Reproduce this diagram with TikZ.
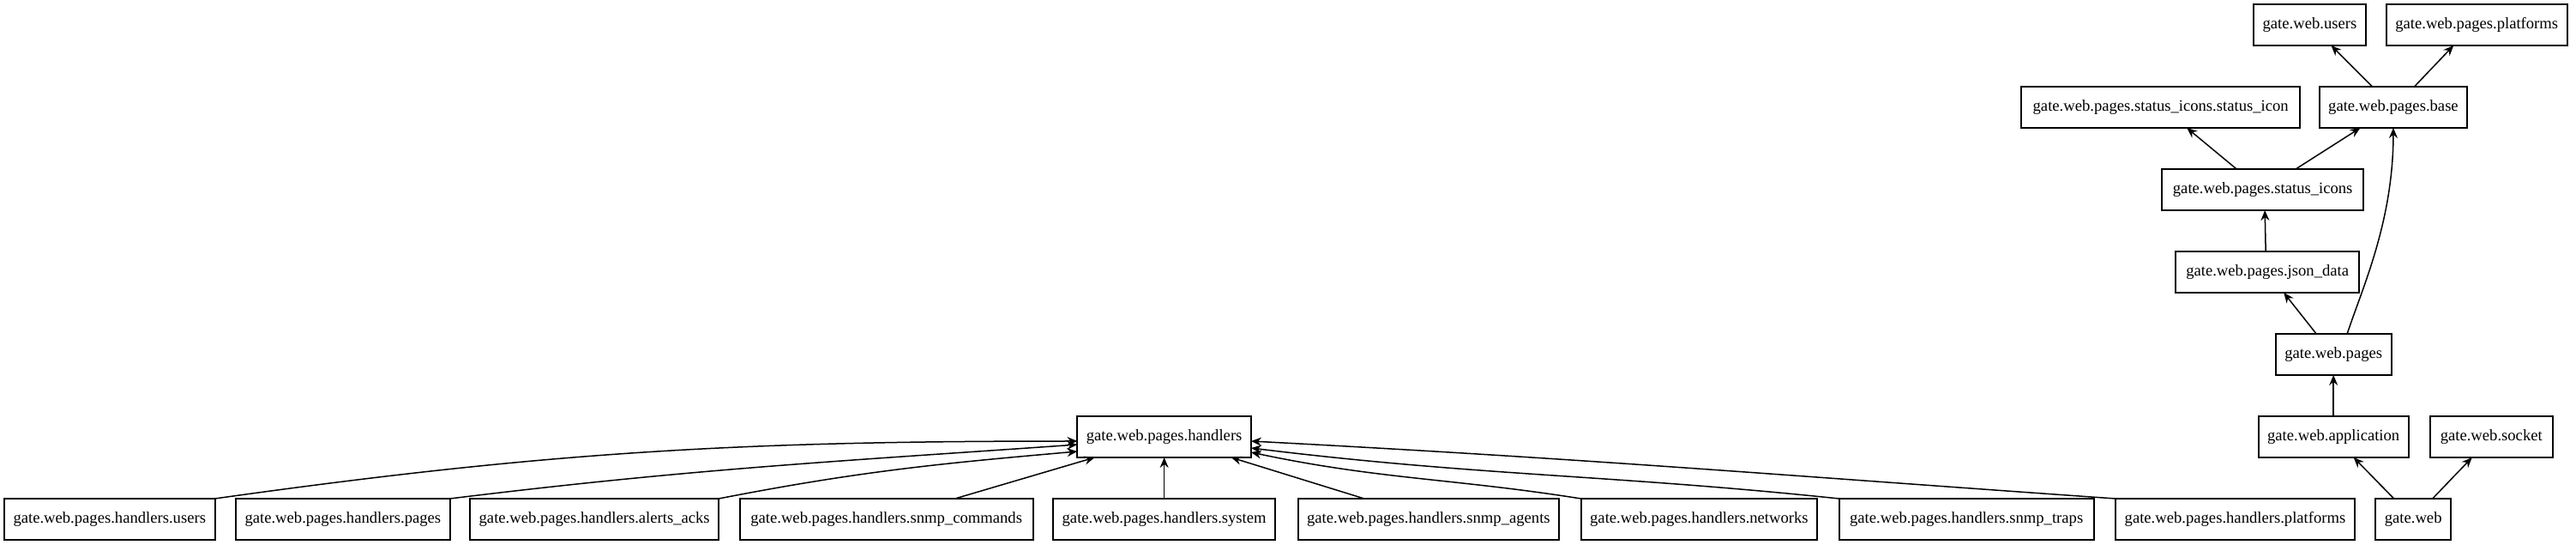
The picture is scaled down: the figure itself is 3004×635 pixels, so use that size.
\documentclass[tikz,border=0pt]{standalone}
\usepackage{fontspec}
\setmainfont{Liberation Serif}
\usetikzlibrary{arrows.meta,positioning}

\begin{document}
\begin{tikzpicture}
    \tikzstyle{module} = [rectangle, draw=black, fill=white, line width=2bp, outer sep=0pt, minimum height=48bp, minimum width=72bp, inner xsep=10.5bp, inner ysep=0pt, font=\fontsize{18.7}{22}\selectfont]
    \tikzstyle{arr} = [line width=1.5bp, -{Stealth[length=12bp, width=10bp, inset=4bp]}, draw=black]

    \useasboundingbox (0,0) rectangle (3004bp,635bp);

    % bottom row
    \node [module, anchor=south west] (hUsers) at (5bp,6bp) {gate.web.pages.handlers.users};
    \node [module, right=24.5bp of hUsers] (hPages) {gate.web.pages.handlers.pages};
    \node [module, right=23.5bp of hPages] (hAlerts) {gate.web.pages.handlers.alerts\_acks};
    \node [module, right=24.5bp of hAlerts, minimum width=342bp] (hCmds) {gate.web.pages.handlers.snmp\_commands};
    \node [module, right=23.5bp of hCmds] (hSystem) {gate.web.pages.handlers.system};
    \node [module, right=26.5bp of hSystem] (hAgents) {gate.web.pages.handlers.snmp\_agents};
    \node [module, right=25.5bp of hAgents] (hNetworks) {gate.web.pages.handlers.networks};
    \node [module, right=25.5bp of hNetworks, minimum width=297bp] (hTraps) {gate.web.pages.handlers.snmp\_traps};
    \node [module, right=25.5bp of hTraps] (hPlatforms) {gate.web.pages.handlers.platforms};
    \node [module, right=24.5bp of hPlatforms] (web) {gate.web};

    % upper ranks
    \node [module, above=48bp of hSystem] (handlers) {gate.web.pages.handlers};
    \node [module, above=48bp of web, xshift=-93bp] (application) {gate.web.application};
    \node [module, right=25bp of application, minimum width=143bp] (socket) {gate.web.socket};
    \node [module, above=48bp of application] (pages) {gate.web.pages};
    \node [module, above=48bp of pages, xshift=-77bp, minimum width=214bp] (jsonData) {gate.web.pages.json\_data};
    \node [module, above=48bp of jsonData, xshift=-5.5bp, minimum width=235bp] (statusIcons) {gate.web.pages.status\_icons};
    \node [module, above=48bp of statusIcons, xshift=-119bp, minimum width=325bp] (statusIcon) {gate.web.pages.status\_icons.status\_icon};
    \node [module, right=22.5bp of statusIcon] (base) {gate.web.pages.base};
    \node [module, above=48bp of base, xshift=-97.5bp] (users) {gate.web.users};
    \node [module, right=24bp of users] (platforms) {gate.web.pages.platforms};

    % handlers
    \draw [arr] (hUsers.north east) to [out=8, in=180] ([yshift=-5bp]handlers.west);
    \draw [arr] (hPages.north east) to [out=7, in=184] ([yshift=-9bp]handlers.west);
    \draw [arr] (hAlerts.north east) to [out=11, in=185] ([yshift=-17bp]handlers.west);
    \draw [arr] ([xshift=80bp]hCmds.north) -- ([xshift=-81bp]handlers.south);
    \draw [arr] (hSystem.north) -- (handlers.south);
    \draw [arr] ([xshift=-75bp]hAgents.north) -- ([xshift=78bp]handlers.south);
    \draw [arr] (hNetworks.north west) to [out=171, in=-12] ([yshift=-18bp]handlers.east);
    \draw [arr] (hTraps.north west) to [out=174, in=-7] ([yshift=-13bp]handlers.east);
    \draw [arr] (hPlatforms.north west) to [out=176, in=-3] ([yshift=-5bp]handlers.east);

    % web
    \draw [arr] ([xshift=-22.5bp]web.north) -- ([xshift=23.5bp]application.south);
    \draw [arr] ([xshift=22.5bp]web.north) -- ([xshift=-22.5bp]socket.south);
    \draw [arr] (application.north) -- (pages.south);
    \draw [arr] ([xshift=-20bp]pages.north) -- ([xshift=19bp]jsonData.south);
    \draw [arr] ([xshift=16bp]pages.north) to [out=72, in=-90, out distance=55bp, in distance=110bp] (base.south);
    \draw [arr] ([xshift=-2bp]jsonData.north) -- ([xshift=2.5bp]statusIcons.south);
    \draw [arr] ([xshift=-30.5bp]statusIcons.north) -- ([xshift=30.5bp]statusIcon.south);
    \draw [arr] ([xshift=38.5bp]statusIcons.north) -- ([xshift=-38.5bp]base.south);
    \draw [arr] ([xshift=-24.5bp]base.north) -- ([xshift=25bp]users.south);
    \draw [arr] ([xshift=24.5bp]base.north) -- ([xshift=-27bp]platforms.south);
\end{tikzpicture}
\end{document}
